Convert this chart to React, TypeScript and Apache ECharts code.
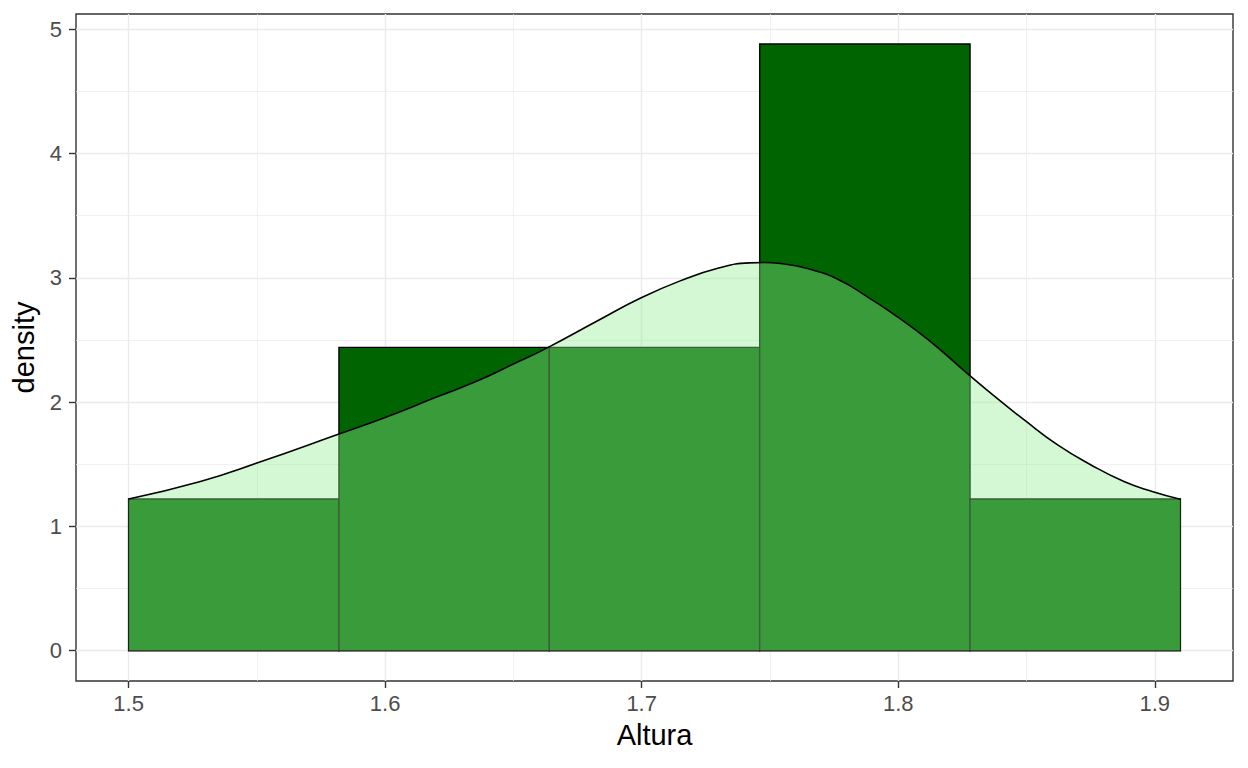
import React, { useEffect, useRef } from "react";
import * as echarts from "echarts";

// Histogram bins (edges) and their density heights
const binEdges = [1.5, 1.582, 1.664, 1.746, 1.828, 1.91];
const binDensity = [1.22, 2.44, 2.44, 4.88, 1.22];

// Kernel density curve
const densityX = [
  1.5, 1.528, 1.55, 1.582, 1.6, 1.62, 1.637, 1.65, 1.663, 1.683, 1.699,
  1.715, 1.73, 1.742, 1.748, 1.754, 1.765, 1.777, 1.788, 1.8, 1.812,
  1.827, 1.84, 1.849, 1.862, 1.875, 1.888, 1.899, 1.91,
];
const densityY = [
  1.22, 1.361, 1.509, 1.743, 1.876, 2.04, 2.179, 2.306, 2.434, 2.656,
  2.831, 2.975, 3.078, 3.12, 3.123, 3.115, 3.072, 2.982, 2.846, 2.682, 2.496,
  2.229, 2.005, 1.858, 1.657, 1.496, 1.361, 1.281, 1.218,
];

const xTicks = [1.5, 1.6, 1.7, 1.8, 1.9];
const xMinorTicks = [1.55, 1.65, 1.75, 1.85];
const yTicks = [0, 1, 2, 3, 4, 5];
const yMinorTicks = [0.5, 1.5, 2.5, 3.5, 4.5];
const xRange = [1.4795, 1.9305];
const yRange = [-0.2439, 5.1219];

const FONT = "'Liberation Sans', Arial, Helvetica, sans-serif";

export default function App() {
  const ref = useRef<HTMLDivElement>(null);

  useEffect(() => {
    if (!ref.current) return;
    const chart = echarts.init(ref.current, undefined, { renderer: "svg" });

    const bins = binDensity.map((d, i) => [binEdges[i], binEdges[i + 1], d]);
    const density = densityX.map((x, i) => [x, densityY[i]]);

    const majorLine = { color: "#EBEBEB", width: 1.4 };
    const minorLine = { color: "#EBEBEB", width: 0.7 };

    const option: any = {
      animation: false,
      backgroundColor: "#ffffff",
      grid: {
        left: 76,
        right: 15,
        top: 14,
        bottom: 87,
        show: true,
        borderColor: "#333333",
        borderWidth: 1.4,
        backgroundColor: "#ffffff",
        containLabel: false,
        outerBoundsMode: "none",
      },
      xAxis: [
        {
          type: "value",
          min: xRange[0],
          max: xRange[1],
          position: "bottom",
          axisLine: { show: false, onZero: false },
          axisTick: {
            show: true,
            length: 7,
            customValues: xTicks,
            lineStyle: { color: "#333333", width: 1.4 },
          },
          axisLabel: {
            customValues: xTicks,
            color: "#4D4D4D",
            fontSize: 22,
            fontFamily: FONT,
            margin: 11,
            formatter: (v: number) => v.toFixed(1),
          },
          splitLine: { show: true, lineStyle: majorLine },
          name: "Altura",
          nameLocation: "middle",
          nameGap: 39,
          nameTextStyle: { color: "#000000", fontSize: 29, fontFamily: FONT },
          z: 1,
        },
        {
          type: "value",
          min: xRange[0],
          max: xRange[1],
          position: "bottom",
          offset: 0,
          axisLine: { show: false, onZero: false },
          axisTick: { show: false, customValues: xMinorTicks },
          axisLabel: { show: false, customValues: xMinorTicks },
          splitLine: { show: true, lineStyle: minorLine },
          z: 0,
        },
      ],
      yAxis: [
        {
          type: "value",
          min: yRange[0],
          max: yRange[1],
          position: "left",
          axisLine: { show: false, onZero: false },
          axisTick: {
            show: true,
            length: 7,
            customValues: yTicks,
            lineStyle: { color: "#333333", width: 1.4 },
          },
          axisLabel: {
            customValues: yTicks,
            color: "#4D4D4D",
            fontSize: 22,
            fontFamily: FONT,
            margin: 14,
          },
          splitLine: { show: true, lineStyle: majorLine },
          name: "density",
          nameLocation: "middle",
          nameGap: 36,
          nameTextStyle: { color: "#000000", fontSize: 29, fontFamily: FONT },
          z: 1,
        },
        {
          type: "value",
          min: yRange[0],
          max: yRange[1],
          position: "left",
          offset: 0,
          axisLine: { show: false, onZero: false },
          axisTick: { show: false, customValues: yMinorTicks },
          axisLabel: { show: false, customValues: yMinorTicks },
          splitLine: { show: true, lineStyle: minorLine },
          z: 0,
        },
      ],
      series: [
        {
          type: "custom",
          xAxisIndex: 0,
          yAxisIndex: 0,
          encode: { x: [0, 1], y: 2 },
          data: bins,
          z: 2,
          renderItem: (params: any, api: any) => {
            const p0 = api.coord([api.value(0), api.value(2)]);
            const p1 = api.coord([api.value(1), 0]);
            return {
              type: "rect",
              shape: { x: p0[0], y: p0[1], width: p1[0] - p0[0], height: p1[1] - p0[1] },
              style: { fill: "#006400", stroke: "#000000", lineWidth: 1.4 },
            };
          },
        },
        {
          type: "line",
          xAxisIndex: 0,
          yAxisIndex: 0,
          data: density,
          smooth: 0.5,
          showSymbol: false,
          symbol: "none",
          z: 3,
          lineStyle: { color: "#000000", width: 1.6 },
          areaStyle: { color: "#90EE90", opacity: 0.4, origin: 0 },
        },
      ],
    };

    chart.setOption(option);
    return () => chart.dispose();
  }, []);

  return (
    <div
      ref={ref}
      style={{ position: "absolute", left: 0, top: 0, width: 1248, height: 768 }}
    />
  );
}
